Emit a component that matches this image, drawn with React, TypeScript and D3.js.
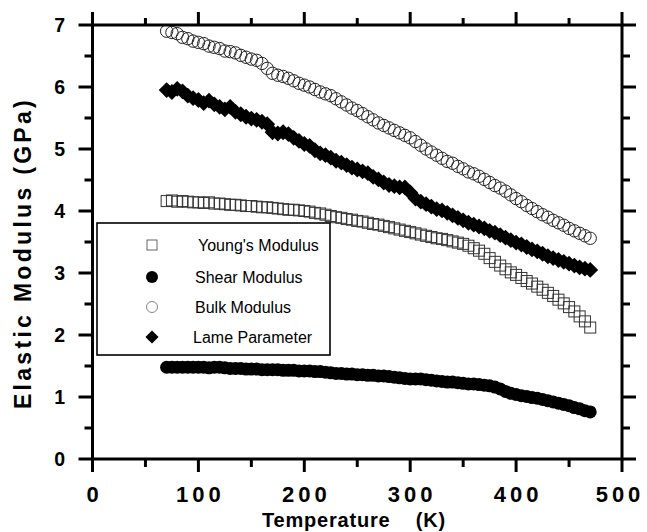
import React, { useEffect, useRef } from "react";
import * as d3 from "d3";

// temperatures (K) sampled along the curves
const temps = [
  70, 75, 80, 85, 90, 95, 100, 105, 110, 115, 120, 125, 130, 135, 140, 145, 150, 155, 160, 165,
  170, 175, 180, 185, 190, 195, 200, 205, 210, 215, 220, 225, 230, 235, 240, 245, 250, 255, 260, 265,
  270, 275, 280, 285, 290, 295, 300, 305, 310, 315, 320, 325, 330, 335, 340, 345, 350, 355, 360, 365,
  370, 375, 380, 385, 390, 395, 400, 405, 410, 415, 420, 425, 430, 435, 440, 445, 450, 455, 460, 465, 470,
];

const youngs = [
  4.16, 4.17, 4.15, 4.16, 4.15, 4.14, 4.14, 4.13, 4.14, 4.12, 4.12, 4.11, 4.1, 4.1, 4.09, 4.08, 4.08, 4.07, 4.06, 4.06,
  4.05, 4.04, 4.03, 4.02, 4.02, 4.01, 4.0, 3.99, 3.97, 3.96, 3.94, 3.92, 3.9, 3.89, 3.87, 3.86, 3.84, 3.83, 3.81, 3.79,
  3.78, 3.76, 3.74, 3.72, 3.7, 3.68, 3.66, 3.64, 3.62, 3.6, 3.58, 3.56, 3.55, 3.53, 3.51, 3.49, 3.47, 3.44, 3.4, 3.36,
  3.31, 3.24, 3.18, 3.12, 3.06, 3.01, 2.97, 2.92, 2.87, 2.83, 2.78, 2.73, 2.68, 2.63, 2.57, 2.51, 2.45, 2.38, 2.3, 2.22, 2.12,
];

const shear = [
  1.48, 1.48, 1.48, 1.48, 1.48, 1.48, 1.48, 1.48, 1.47, 1.48, 1.48, 1.47, 1.46, 1.46, 1.46, 1.45, 1.45, 1.45, 1.44, 1.44,
  1.44, 1.44, 1.43, 1.43, 1.43, 1.42, 1.42, 1.42, 1.41, 1.41, 1.4, 1.39, 1.38, 1.38, 1.37, 1.37, 1.36, 1.36, 1.35, 1.35,
  1.34, 1.34, 1.33, 1.32, 1.31, 1.3, 1.29, 1.29, 1.29, 1.28, 1.27, 1.26, 1.25, 1.24, 1.24, 1.23, 1.22, 1.21, 1.21, 1.2,
  1.19, 1.18, 1.16, 1.13, 1.09, 1.06, 1.04, 1.02, 1.01, 0.99, 0.98, 0.96, 0.94, 0.92, 0.9, 0.88, 0.86, 0.83, 0.81, 0.78, 0.76,
];

const bulk = [
  6.9, 6.88, 6.86, 6.8, 6.78, 6.74, 6.72, 6.7, 6.66, 6.64, 6.62, 6.58, 6.57, 6.55, 6.51, 6.48, 6.45, 6.43, 6.38, 6.3,
  6.22, 6.19, 6.17, 6.14, 6.1, 6.06, 6.03, 6.0, 5.96, 5.92, 5.89, 5.86, 5.81, 5.76, 5.71, 5.66, 5.62, 5.57, 5.52, 5.47,
  5.42, 5.38, 5.34, 5.3, 5.26, 5.22, 5.18, 5.12, 5.06, 5.0, 4.95, 4.9, 4.85, 4.8, 4.77, 4.72, 4.68, 4.63, 4.6, 4.56,
  4.51, 4.46, 4.41, 4.37, 4.32, 4.26, 4.2, 4.15, 4.09, 4.04, 3.99, 3.94, 3.9, 3.85, 3.81, 3.77, 3.72, 3.68, 3.64, 3.6, 3.56,
];

const lame = [
  5.95, 5.92, 5.97, 5.93, 5.86, 5.82, 5.79, 5.74, 5.78, 5.72, 5.68, 5.64, 5.68, 5.6, 5.56, 5.52, 5.49, 5.47, 5.44, 5.4,
  5.27, 5.25, 5.27, 5.24, 5.18, 5.13, 5.08, 5.05, 4.98, 4.93, 4.9, 4.86, 4.81, 4.78, 4.74, 4.7, 4.67, 4.64, 4.61, 4.55,
  4.51, 4.46, 4.42, 4.4, 4.38, 4.38, 4.3, 4.2, 4.15, 4.11, 4.07, 4.03, 4.01, 3.97, 3.93, 3.89, 3.85, 3.81, 3.78, 3.75,
  3.72, 3.68, 3.65, 3.61, 3.57, 3.53, 3.49, 3.46, 3.42, 3.38, 3.35, 3.31, 3.27, 3.24, 3.21, 3.18, 3.15, 3.12, 3.09, 3.07, 3.05,
];

const legendLabels = ["Young's Modulus", "Shear Modulus", "Bulk Modulus", "Lame Parameter"];
const xTickValues = [0, 100, 200, 300, 400, 500];
const yTickValues = [0, 1, 2, 3, 4, 5, 6, 7];

const W = 647;
const H = 532;

function Chart() {
  const ref = useRef<SVGSVGElement>(null);

  useEffect(() => {
    const svg = d3.select(ref.current);
    svg.selectAll("*").remove();

    const x = d3.scaleLinear().domain([0, 500]).range([92.5, 622]);
    const y = d3.scaleLinear().domain([0, 7]).range([459, 25]);
    const [x0, x1] = x.range();
    const [y0, y1] = y.range();

    const font = "'Liberation Sans', Arial, Helvetica, sans-serif";
    const g = svg.append("g");

    // data: bulk (open circles), lame (diamonds), young's (open squares), shear (filled circles)
    const pts = (vals: number[]) => temps.map((t, i) => ({ t, v: vals[i] }));

    g.selectAll("circle.bulk")
      .data(pts(bulk))
      .enter()
      .append("circle")
      .attr("class", "bulk")
      .attr("cx", (d) => x(d.t))
      .attr("cy", (d) => y(d.v))
      .attr("r", 6.2)
      .attr("fill", "none")
      .attr("stroke", "#222")
      .attr("stroke-width", 1);

    const diamond = d3.symbol().type(d3.symbolDiamond2).size(160);
    g.selectAll("path.lame")
      .data(pts(lame))
      .enter()
      .append("path")
      .attr("class", "lame")
      .attr("d", diamond)
      .attr("transform", (d) => `translate(${x(d.t)},${y(d.v)})`)
      .attr("fill", "#000");

    g.selectAll("rect.young")
      .data(pts(youngs))
      .enter()
      .append("rect")
      .attr("class", "young")
      .attr("x", (d) => x(d.t) - 5.5)
      .attr("y", (d) => y(d.v) - 5.5)
      .attr("width", 11)
      .attr("height", 11)
      .attr("fill", "none")
      .attr("stroke", "#333")
      .attr("stroke-width", 1);

    g.selectAll("circle.shear")
      .data(pts(shear))
      .enter()
      .append("circle")
      .attr("class", "shear")
      .attr("cx", (d) => x(d.t))
      .attr("cy", (d) => y(d.v))
      .attr("r", 6.5)
      .attr("fill", "#000");

    // frame
    g.append("rect")
      .attr("x", x0)
      .attr("y", y1)
      .attr("width", x1 - x0)
      .attr("height", y0 - y1)
      .attr("fill", "none")
      .attr("stroke", "#000")
      .attr("stroke-width", 3);

    // ticks, all pointing outwards
    const ax = svg.append("g").attr("stroke", "#000").attr("stroke-width", 3);
    d3.range(0, 501, 50).forEach((t) => {
      const major = t % 100 === 0;
      ax.append("line").attr("x1", x(t)).attr("x2", x(t)).attr("y1", y0).attr("y2", y0 + (major ? 13 : 8));
      ax.append("line").attr("x1", x(t)).attr("x2", x(t)).attr("y1", y1).attr("y2", y1 - (major ? 13 : 7));
    });
    d3.range(0, 7.01, 0.5).forEach((v) => {
      const major = v % 1 === 0;
      ax.append("line").attr("y1", y(v)).attr("y2", y(v)).attr("x1", x0).attr("x2", x0 - (major ? 14 : 8));
      ax.append("line").attr("y1", y(v)).attr("y2", y(v)).attr("x1", x1).attr("x2", x1 + (major ? 14 : 8));
    });

    // tick labels
    svg.append("g")
      .selectAll("text")
      .data(xTickValues)
      .enter()
      .append("text")
      .attr("x", (d) => x(d) + (d === 500 ? -2 : 2))
      .attr("y", 502)
      .attr("text-anchor", "middle")
      .attr("font-family", font)
      .attr("font-weight", "bold")
      .attr("font-size", 22)
      .attr("letter-spacing", 4)
      .text((d) => d);

    svg.append("g")
      .selectAll("text")
      .data(yTickValues)
      .enter()
      .append("text")
      .attr("x", 65)
      .attr("y", (d) => y(d) + 7)
      .attr("text-anchor", "end")
      .attr("font-family", font)
      .attr("font-weight", "bold")
      .attr("font-size", 19.5)
      .text((d) => d);

    // axis titles
    svg.append("text")
      .attr("x", 354)
      .attr("y", 527)
      .attr("text-anchor", "middle")
      .attr("font-family", font)
      .attr("font-weight", "bold")
      .attr("font-size", 20)
      .attr("letter-spacing", 0.8)
      .style("white-space", "pre")
      .text("Temperature    (K)");

    svg.append("text")
      .attr("transform", "translate(31,253) rotate(-90)")
      .attr("text-anchor", "middle")
      .attr("font-family", font)
      .attr("font-weight", "bold")
      .attr("font-size", 23)
      .attr("letter-spacing", 3.3)
      .text("Elastic Modulus (GPa)");

    // legend
    const lg = svg.append("g");
    lg.append("rect")
      .attr("x", 97)
      .attr("y", 223)
      .attr("width", 233)
      .attr("height", 132)
      .attr("fill", "#fff")
      .attr("stroke", "#000")
      .attr("stroke-width", 1.6);

    const rowY = [245, 277, 307, 337];
    const textX = [198, 195, 195, 193];
    const sx = 152;
    lg.append("rect").attr("x", sx - 5).attr("y", rowY[0] - 5).attr("width", 10).attr("height", 10)
      .attr("fill", "none").attr("stroke", "#555").attr("stroke-width", 0.9);
    lg.append("circle").attr("cx", sx).attr("cy", rowY[1]).attr("r", 6).attr("fill", "#000");
    lg.append("circle").attr("cx", sx).attr("cy", rowY[2]).attr("r", 5.5)
      .attr("fill", "none").attr("stroke", "#666").attr("stroke-width", 0.8);
    lg.append("path").attr("d", d3.symbol().type(d3.symbolDiamond2).size(110))
      .attr("transform", `translate(${sx},${rowY[3]})`).attr("fill", "#000");

    lg.selectAll("text")
      .data(legendLabels)
      .enter()
      .append("text")
      .attr("x", (d, i) => textX[i])
      .attr("y", (d, i) => rowY[i] + 5.5)
      .attr("font-family", font)
      .attr("font-size", 16)
      .text((d) => d);
  }, []);

  return <svg ref={ref} width={W} height={H} style={{ position: "absolute", left: 0, top: 0, background: "#fff" }} />;
}

export default function App() {
  return <Chart />;
}
